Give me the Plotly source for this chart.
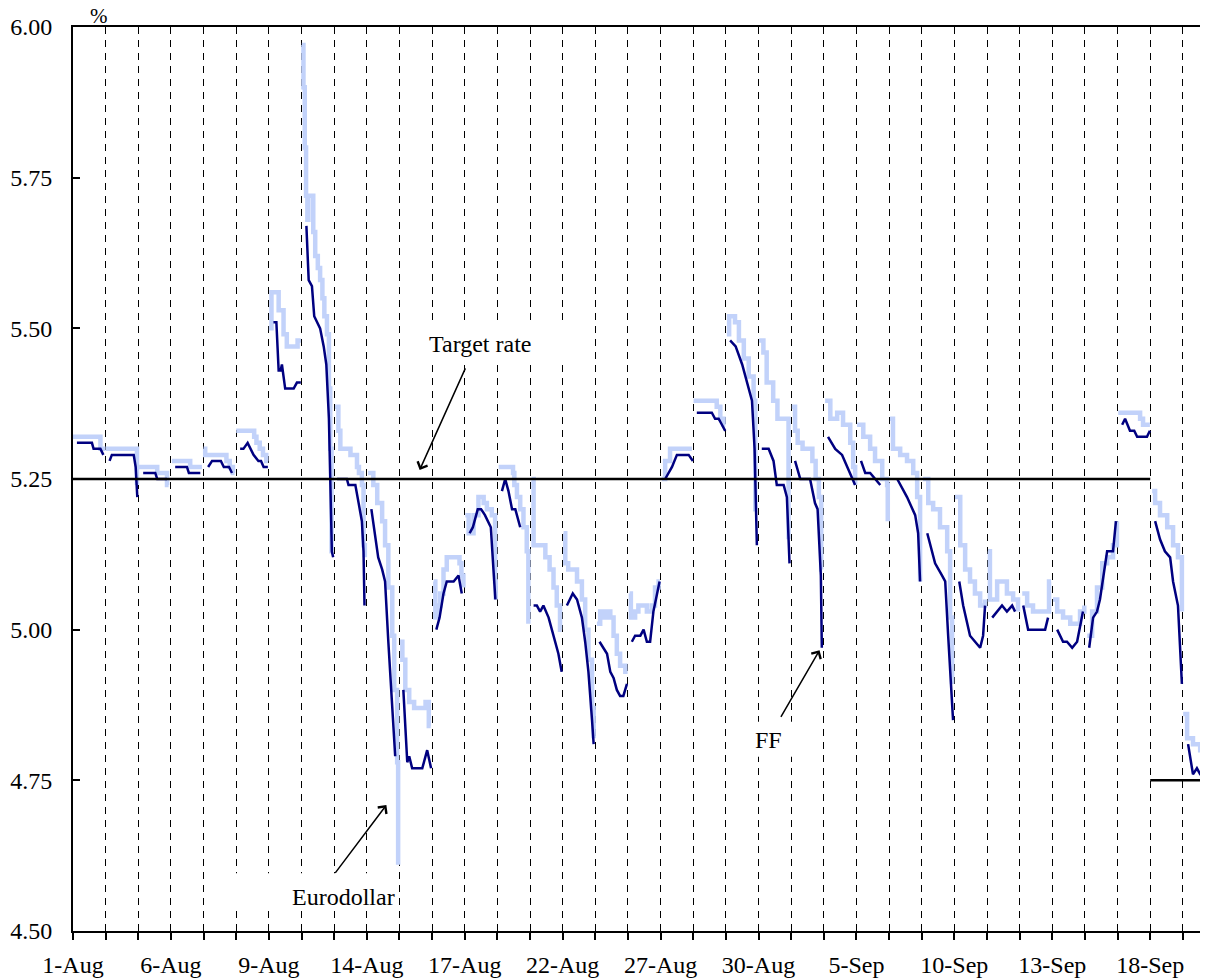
import plotly.graph_objects as go

# trading days shown on the axis (Labor Day skipped)
days = ["1-Aug", "2-Aug", "3-Aug", "6-Aug", "7-Aug", "8-Aug", "9-Aug", "10-Aug",
        "13-Aug", "14-Aug", "15-Aug", "16-Aug", "17-Aug", "20-Aug", "21-Aug",
        "22-Aug", "23-Aug", "24-Aug", "27-Aug", "28-Aug", "29-Aug", "30-Aug",
        "31-Aug", "4-Sep", "5-Sep", "6-Sep", "7-Sep", "10-Sep", "11-Sep",
        "12-Sep", "13-Sep", "14-Sep", "17-Sep", "18-Sep", "19-Sep"]

# intraday quotes: time as fraction of the trading day, rate in %
ed_t = [
    [0.00, 0.84, 0.99],
    [0.00, 0.96],
    [0.02, 0.58, 0.88, 0.93],
    [0.03, 0.59, 0.95],
    [0.00, 0.05, 0.70, 0.80, 0.90, 0.95],
    [0.00, 0.55, 0.62, 0.72, 0.82, 0.92, 0.98],
    [0.00, 0.08, 0.30, 0.45, 0.55, 0.88, 0.98],
    [0.01, 0.06, 0.10, 0.14, 0.18, 0.21, 0.36, 0.42, 0.50, 0.57, 0.64, 0.70, 0.78, 0.84, 0.88, 0.92, 0.97],
    [0.03, 0.13, 0.19, 0.50, 0.70, 0.76, 0.85, 0.90, 0.94],
    [0.04, 0.20, 0.32, 0.47, 0.56, 0.66, 0.78, 0.84, 0.93, 0.96],
    [0.02, 0.09, 0.18, 0.30, 0.45, 0.80, 0.90, 0.96],
    [0.05, 0.10, 0.18, 0.25, 0.35, 0.45, 0.84, 0.90, 0.96],
    [0.02, 0.12, 0.27, 0.42, 0.58, 0.68, 0.83, 0.93, 0.95],
    [0.04, 0.48, 0.52, 0.60, 0.70, 0.80, 0.90, 0.95],
    [0.05, 0.11, 0.47, 0.60, 0.72, 0.82, 0.92, 0.97],
    [0.03, 0.08, 0.17, 0.44, 0.59, 0.69, 0.79, 0.90, 0.95],
    [0.05, 0.15, 0.25, 0.36, 0.46, 0.56, 0.66, 0.76, 0.92, 0.99],
    [0.05, 0.09, 0.22, 0.32, 0.58, 0.73, 0.83, 0.94, 0.98],
    [0.04, 0.14, 0.29, 0.96],
    [0.01, 0.72, 0.83, 0.93, 0.98],
    [0.03, 0.10, 0.28, 0.40, 0.55, 0.70, 0.85, 0.90, 0.93],
    [0.02, 0.15, 0.25, 0.45, 0.58, 0.88, 0.92],
    [0.02, 0.12, 0.20, 0.35, 0.65, 0.75, 0.85, 0.92, 0.95],
    [0.04, 0.20, 0.41, 0.59, 0.81, 0.90, 0.96],
    [0.02, 0.21, 0.42, 0.57, 0.79, 0.94, 0.96],
    [0.03, 0.12, 0.34, 0.55, 0.74, 0.86, 0.95],
    [0.04, 0.20, 0.35, 0.56, 0.78, 0.87, 0.93],
    [0.02, 0.18, 0.33, 0.48, 0.63, 0.79, 0.94],
    [0.03, 0.09, 0.31, 0.61, 0.80, 0.95],
    [0.08, 0.23, 0.41, 0.84, 0.90, 0.96],
    [0.02, 0.15, 0.33, 0.55, 0.85, 0.98],
    [0.07, 0.22, 0.37, 0.53, 0.68, 0.86, 0.98],
    [0.02, 0.60, 0.69, 0.78, 0.99],
    [0.06, 0.15, 0.30, 0.52, 0.70, 0.85, 0.97],
    [0.01, 0.13, 0.31, 0.53, 0.74, 0.90],
]
ed_v = [
    [5.32, 5.30, 5.30],
    [5.30, 5.24],
    [5.27, 5.26, 5.24, 5.24],
    [5.28, 5.27, 5.27],
    [5.30, 5.29, 5.28, 5.27, 5.26, 5.26],
    [5.33, 5.32, 5.31, 5.30, 5.29, 5.28, 5.28],
    [5.50, 5.56, 5.53, 5.49, 5.47, 5.48, 5.48],
    [5.97, 5.90, 5.80, 5.72, 5.68, 5.72, 5.66, 5.62, 5.60, 5.58, 5.55, 5.52, 5.49, 5.40, 5.30, 5.13, 5.13],
    [5.37, 5.33, 5.30, 5.29, 5.27, 5.26, 5.24, 5.14, 5.12],
    [5.26, 5.24, 5.21, 5.18, 5.14, 5.07, 4.99, 4.90, 4.78, 4.61],
    [4.98, 4.95, 4.90, 4.88, 4.87, 4.88, 4.84, 4.84],
    [5.08, 5.02, 5.04, 5.06, 5.10, 5.12, 5.11, 5.09, 5.07],
    [5.19, 5.16, 5.19, 5.22, 5.21, 5.20, 5.19, 5.08, 5.05],
    [5.27, 5.26, 5.24, 5.22, 5.20, 5.17, 5.13, 5.01],
    [5.25, 5.14, 5.12, 5.10, 5.07, 5.04, 5.00, 5.00],
    [5.16, 5.11, 5.10, 5.08, 5.05, 5.00, 4.95, 4.87, 4.82],
    [5.01, 5.03, 5.02, 5.03, 5.02, 4.99, 4.96, 4.94, 4.93, 4.93],
    [5.06, 5.02, 5.03, 5.04, 5.03, 5.04, 5.07, 5.08, 5.08],
    [5.25, 5.28, 5.30, 5.30],
    [5.38, 5.37, 5.35, 5.34, 5.34],
    [5.49, 5.52, 5.51, 5.48, 5.45, 5.42, 5.38, 5.20, 5.20],
    [5.48, 5.46, 5.41, 5.38, 5.35, 5.35, 5.15],
    [5.37, 5.33, 5.31, 5.30, 5.28, 5.25, 5.22, 5.10, 5.10],
    [5.38, 5.35, 5.36, 5.34, 5.31, 5.27, 5.24],
    [5.34, 5.32, 5.30, 5.28, 5.25, 5.24, 5.18],
    [5.35, 5.30, 5.29, 5.28, 5.26, 5.22, 5.08],
    [5.25, 5.21, 5.20, 5.17, 5.13, 5.02, 4.91],
    [5.22, 5.14, 5.10, 5.08, 5.06, 5.04, 5.05],
    [5.13, 5.05, 5.08, 5.06, 5.05, 5.03],
    [5.06, 5.04, 5.03, 5.03, 5.08, 5.08],
    [5.05, 5.03, 5.02, 5.01, 5.03, 5.04],
    [4.99, 5.03, 5.07, 5.11, 5.12, 5.14, 5.18],
    [5.36, 5.36, 5.35, 5.34, 5.34],
    [5.23, 5.21, 5.19, 5.17, 5.14, 5.12, 5.03],
    [4.86, 4.82, 4.81, 4.80, 4.79, 4.78],
]

ff_t = [
    [0.12, 0.58, 0.63, 0.84, 0.93],
    [0.12, 0.19, 0.86, 0.92, 0.97],
    [0.15, 0.52, 0.58, 0.88],
    [0.13, 0.49, 0.55, 0.90],
    [0.14, 0.26, 0.53, 0.62, 0.78, 0.87],
    [0.12, 0.22, 0.35, 0.53, 0.68, 0.76, 0.84, 0.97],
    [0.14, 0.23, 0.30, 0.36, 0.40, 0.50, 0.76, 0.86, 0.98],
    [0.15, 0.22, 0.32, 0.39, 0.57, 0.68, 0.76, 0.84, 0.93, 0.97],
    [0.09, 0.39, 0.44, 0.65, 0.75, 0.85, 0.90, 0.93],
    [0.14, 0.26, 0.35, 0.47, 0.56, 0.66, 0.78, 0.87],
    [0.12, 0.24, 0.30, 0.39, 0.70, 0.85, 0.97],
    [0.13, 0.23, 0.35, 0.45, 0.66, 0.81, 0.91],
    [0.15, 0.25, 0.40, 0.50, 0.62, 0.72, 0.80, 0.88, 0.94],
    [0.14, 0.24, 0.34, 0.45, 0.55, 0.70],
    [0.11, 0.21, 0.31, 0.41, 0.57, 0.67, 0.77, 0.87, 0.97],
    [0.13, 0.31, 0.44, 0.59, 0.69, 0.79, 0.90, 0.95],
    [0.13, 0.25, 0.36, 0.46, 0.56, 0.66, 0.76, 0.86, 0.97],
    [0.12, 0.22, 0.38, 0.48, 0.58, 0.68, 0.78, 0.89, 0.97],
    [0.14, 0.24, 0.35, 0.50, 0.86, 0.99],
    [0.11, 0.57, 0.67, 0.78, 0.88, 0.98],
    [0.13, 0.30, 0.50, 0.70, 0.80, 0.88, 0.95],
    [0.10, 0.31, 0.46, 0.56, 0.77, 0.87, 0.95],
    [0.12, 0.28, 0.58, 0.66, 0.73, 0.81, 0.91, 0.94],
    [0.13, 0.35, 0.56, 0.81, 0.96],
    [0.14, 0.27, 0.42, 0.57, 0.73],
    [0.25, 0.55, 0.80, 0.89, 0.95],
    [0.17, 0.26, 0.41, 0.62, 0.72, 0.81, 0.96],
    [0.15, 0.27, 0.48, 0.63, 0.79, 0.88, 0.94],
    [0.16, 0.31, 0.46, 0.61, 0.77, 0.86],
    [0.11, 0.26, 0.41, 0.78, 0.87],
    [0.15, 0.33, 0.45, 0.61, 0.76, 0.94],
    [0.13, 0.25, 0.37, 0.46, 0.68, 0.86, 0.95],
    [0.14, 0.23, 0.38, 0.51, 0.60, 0.90, 0.99],
    [0.15, 0.30, 0.45, 0.61, 0.70, 0.85, 0.97],
    [0.16, 0.31, 0.43, 0.53, 0.90],
]
ff_v = [
    [5.31, 5.31, 5.30, 5.30, 5.29],
    [5.28, 5.29, 5.29, 5.27, 5.22],
    [5.26, 5.26, 5.25, 5.25],
    [5.27, 5.27, 5.26, 5.26],
    [5.27, 5.28, 5.28, 5.27, 5.27, 5.26],
    [5.30, 5.30, 5.31, 5.29, 5.28, 5.28, 5.27, 5.27],
    [5.51, 5.51, 5.43, 5.43, 5.44, 5.40, 5.40, 5.41, 5.41],
    [5.67, 5.58, 5.57, 5.52, 5.50, 5.47, 5.44, 5.35, 5.13, 5.12],
    [5.25, 5.25, 5.24, 5.24, 5.21, 5.18, 5.13, 5.04],
    [5.20, 5.15, 5.12, 5.10, 5.08, 4.98, 4.88, 4.79],
    [4.90, 4.78, 4.79, 4.77, 4.77, 4.80, 4.77],
    [5.00, 5.02, 5.06, 5.08, 5.08, 5.09, 5.06],
    [5.16, 5.17, 5.20, 5.20, 5.19, 5.18, 5.17, 5.10, 5.05],
    [5.23, 5.25, 5.23, 5.20, 5.20, 5.17],
    [5.04, 5.04, 5.03, 5.04, 5.02, 5.00, 4.98, 4.96, 4.93],
    [5.04, 5.06, 5.05, 5.02, 4.98, 4.93, 4.85, 4.81],
    [4.98, 4.97, 4.96, 4.93, 4.92, 4.90, 4.89, 4.89, 4.91],
    [4.98, 4.99, 4.99, 5.00, 4.98, 4.98, 5.03, 5.06, 5.08],
    [5.25, 5.26, 5.27, 5.29, 5.29, 5.28],
    [5.36, 5.36, 5.35, 5.35, 5.34, 5.33],
    [5.48, 5.47, 5.44, 5.40, 5.38, 5.30, 5.14],
    [5.30, 5.30, 5.28, 5.24, 5.24, 5.22, 5.11],
    [5.28, 5.25, 5.25, 5.23, 5.21, 5.20, 5.09, 4.97],
    [5.32, 5.30, 5.29, 5.26, 5.24],
    [5.28, 5.26, 5.26, 5.25, 5.24],
    [5.25, 5.22, 5.19, 5.16, 5.08],
    [5.16, 5.14, 5.11, 5.09, 5.08, 4.99, 4.85],
    [5.08, 5.04, 4.99, 4.98, 4.97, 4.99, 5.04],
    [5.02, 5.03, 5.04, 5.03, 5.04, 5.03],
    [5.04, 5.00, 5.00, 5.00, 5.02],
    [5.00, 4.98, 4.98, 4.97, 4.98, 5.03],
    [4.97, 5.02, 5.03, 5.05, 5.13, 5.13, 5.18],
    [5.34, 5.35, 5.33, 5.33, 5.32, 5.32, 5.33],
    [5.18, 5.15, 5.13, 5.12, 5.08, 5.04, 4.91],
    [4.81, 4.76, 4.77, 4.76, 4.76],
]

# fed funds target: effective from these days
target_from = ["1-Aug", "18-Sep"]
target_rate = [5.25, 4.75]

X_END = 34.77  # last visible part of 20-Sep
FONT = "Liberation Serif"


def intraday(times, values):
    xs, ys = [], []
    for d, (ts, vs) in enumerate(zip(times, values)):
        xs += [d + t for t in ts] + [None]
        ys += list(vs) + [None]
    return xs, ys


ed_x, ed_y = intraday(ed_t, ed_v)
ff_x, ff_y = intraday(ff_t, ff_v)

tg_x, tg_y = [], []
starts = [days.index(s) for s in target_from]
for i, (s, r) in enumerate(zip(starts, target_rate)):
    end = starts[i + 1] if i + 1 < len(starts) else X_END
    tg_x += [s, end, None]
    tg_y += [r, r, None]

fig = go.Figure()
fig.add_trace(go.Scatter(x=ed_x, y=ed_y, mode="lines", name="Eurodollar",
                         line=dict(color="#c2d2fa", width=4.5, shape="hv")))
fig.add_trace(go.Scatter(x=ff_x, y=ff_y, mode="lines", name="FF",
                         line=dict(color="#000080", width=2.5)))
fig.add_trace(go.Scatter(x=tg_x, y=tg_y, mode="lines", name="Target rate",
                         line=dict(color="black", width=2.5)))

# white label boxes hide the day separators behind the text
for x0, x1, y0, y1 in [(4.82, 9.72, 4.536, 4.596),
                       (10.18, 15.38, 5.443, 5.506),
                       (20.35, 22.28, 4.789, 4.847)]:
    fig.add_shape(type="rect", x0=x0, x1=x1, y0=y0, y1=y1, layer="between",
                  fillcolor="white", line=dict(width=0))

labels = [("Target rate", 12.46, 5.474), ("Eurodollar", 8.28, 4.557), ("FF", 21.31, 4.817)]
for text, x, y in labels:
    fig.add_annotation(x=x, y=y, text=text, showarrow=False,
                       font=dict(family=FONT, size=24, color="black"))

arrows = [((12.04, 5.436), (10.62, 5.265)),
          ((8.00, 4.594), (9.60, 4.709)),
          ((21.66, 4.853), (22.87, 4.966))]
for (ax, ay), (hx, hy) in arrows:
    fig.add_annotation(x=hx, y=hy, ax=ax, ay=ay, axref="x", ayref="y", text="",
                       showarrow=True, arrowhead=4, arrowsize=1.4, arrowwidth=1.5,
                       arrowcolor="black")

fig.add_annotation(xref="paper", yref="paper", x=0.0225, y=1.0, yshift=11,
                   text="%", showarrow=False, xanchor="center", yanchor="middle",
                   font=dict(family=FONT, size=21, color="black"))

fig.update_xaxes(range=[0, X_END], tickvals=list(range(len(days))),
                 ticktext=[d if i % 3 == 0 else "" for i, d in enumerate(days)],
                 ticks="outside", ticklen=7, tickwidth=1.5, tickcolor="black",
                 showline=True, linecolor="black", linewidth=2, mirror=True,
                 showgrid=True, gridcolor="black", gridwidth=1, griddash="7px,6px",
                 zeroline=False, ticklabelstandoff=4, automargin=False,
                 tickfont=dict(family=FONT, size=24, color="black"))
fig.update_yaxes(range=[4.5, 6.0], tickvals=[4.5, 4.75, 5.0, 5.25, 5.5, 5.75, 6.0],
                 tickformat=".2f", ticks="inside", ticklen=7, tickwidth=1.5,
                 tickcolor="black", showline=True, linecolor="black", linewidth=2,
                 showgrid=False, zeroline=False, ticklabelstandoff=14, automargin=False,
                 tickfont=dict(family=FONT, size=24, color="black"))

# the page body adds an 8px offset, so the figure is sized to sit inside it
fig.update_layout(width=1200, height=972, showlegend=False,
                  margin=dict(l=65, r=0, t=19, b=49),
                  plot_bgcolor="white", paper_bgcolor="white")

fig.write_html("out.html")
